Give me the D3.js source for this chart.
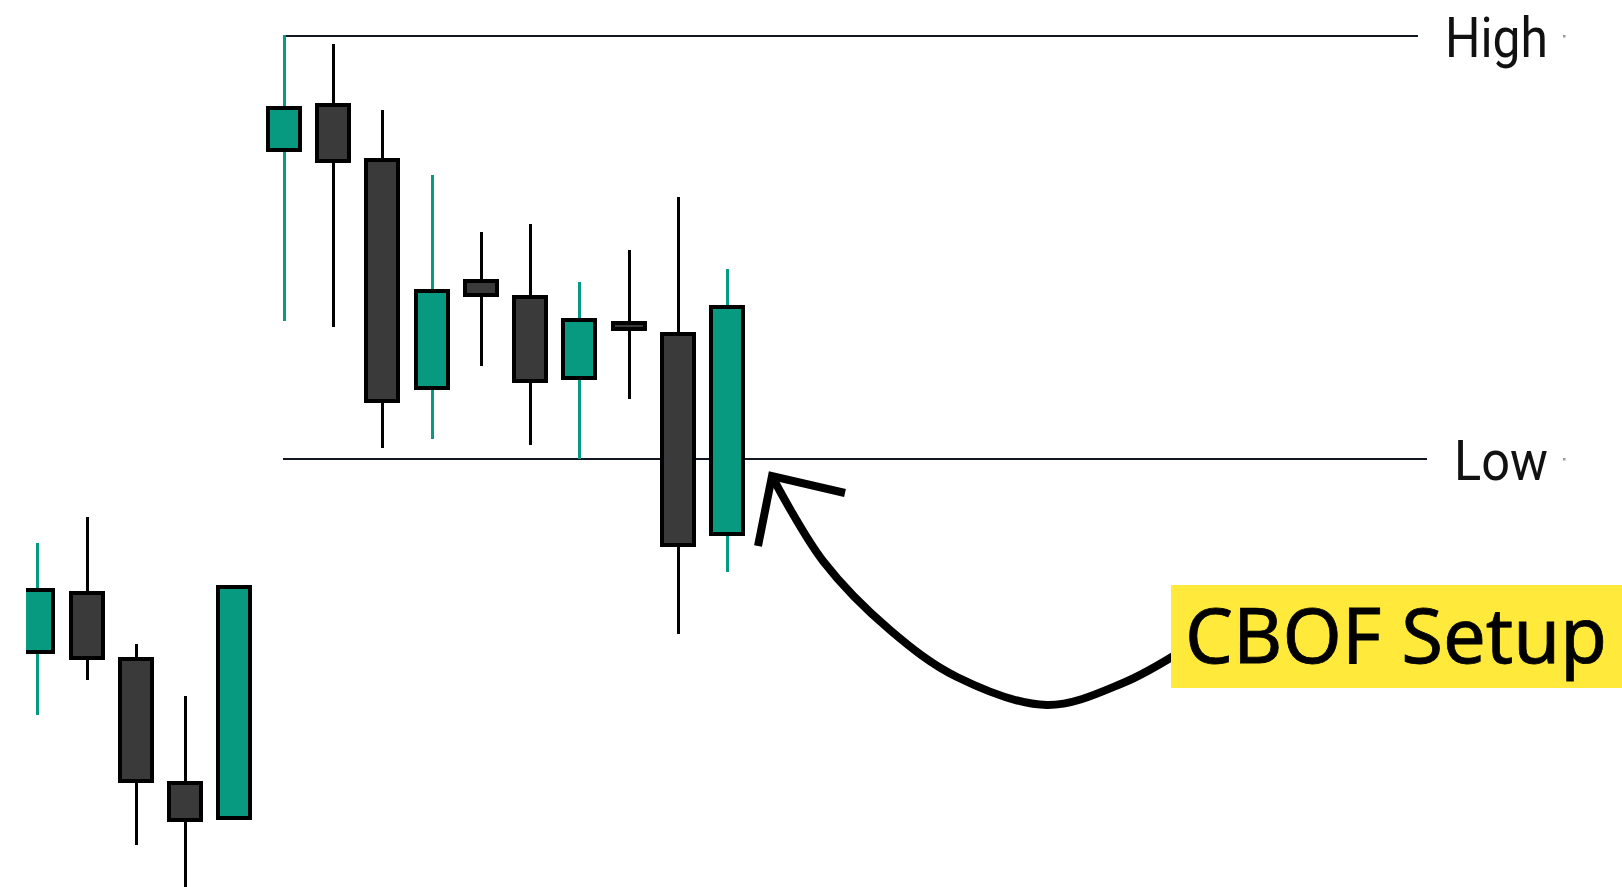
<!DOCTYPE html>
<html>
<head>
<meta charset="utf-8">
<script src="https://cdn.jsdelivr.net/npm/d3@7/dist/d3.min.js"></script>
<style>
  html, body { margin: 0; padding: 0; background: #fff; }
  svg { display: block; }
</style>
</head>
<body>
<svg id="chart" width="1622" height="887"></svg>
<script>
// ---- data (arbitrary price units) ----
const categories = [1, 2, 3, 4, 5, 6, 7, 8, 9, 10, 11, 12, 13, 14, 15];
const opens  = [26.5, 33.1, 25.7, 11.7,  7.8, 83.1, 88.2, 82.0, 56.3, 68.3, 66.5, 57.4, 63.6, 62.4, 39.8];
const highs  = [38.8, 41.7, 27.4, 21.5, 33.8, 96.0, 95.0, 87.6, 80.3, 73.8, 74.7, 68.2, 71.8, 77.8, 69.7];
const lows   = [19.4, 23.3,  4.7,  0.0,  7.8, 63.8, 63.1, 49.5, 50.5, 58.7, 49.8, 48.3, 55.0, 28.5, 35.5];
const closes = [33.5, 25.8, 11.9,  7.5, 33.8, 87.8, 81.9, 54.8, 67.2, 66.7, 57.0, 63.9, 62.9, 38.6, 65.4];

const levelNames  = ["High", "Low"];
const levelValues = [95.9, 48.3];
const levelStart  = 6;            // levels drawn from the 6th candle onward
const annotationText = "CBOF Setup";

// ---- layout / style ----
const W = 1622, H = 887;
const GREEN = "#089981", DARK = "#3a3a3a";
const svg = d3.select("#chart");

const x = d3.scaleLinear().domain([1, 15]).range([37.3, 727.3]);
const y = d3.scaleLinear().domain([0, 100]).range([H, 0]);

const data = categories.map((c, i) => ({
  c, o: opens[i], h: highs[i], l: lows[i], cl: closes[i], up: closes[i] >= opens[i]
}));

svg.append("defs").append("clipPath").attr("id", "clip")
  .append("rect").attr("x", 26).attr("y", 0).attr("width", W - 26).attr("height", H);

// ---- level lines ----
const levelLineEnd = [1418, 1427];
const levelLabelX  = [1445, 1454];
const lv = svg.append("g");
levelValues.forEach((v, i) => {
  const yy = Math.round(y(v));
  lv.append("line")
    .attr("x1", Math.round(x(levelStart)) - 1).attr("x2", levelLineEnd[i])
    .attr("y1", yy).attr("y2", yy)
    .attr("stroke", "#131722").attr("stroke-width", 2);
  lv.append("text")
    .attr("x", levelLabelX[i]).attr("y", yy + 21)
    .attr("font-family", "Roboto, 'Noto Sans', sans-serif")
    .attr("font-size", 55)
    .attr("fill", "#111")
    .attr("textLength", i === 0 ? 103 : 94)
    .attr("lengthAdjust", "spacingAndGlyphs")
    .text(levelNames[i]);
  lv.append("rect")
    .attr("x", 1563).attr("y", yy - 1).attr("width", 2.5).attr("height", 2.5)
    .attr("fill", "#999");
});

// ---- candles ----
const g = svg.append("g").attr("clip-path", "url(#clip)");
const bodyW = 32;
const cx = d => Math.round(x(d.c)) + 0.5;

g.selectAll("line.wick").data(data).join("line")
  .attr("class", "wick")
  .attr("x1", cx).attr("x2", cx)
  .attr("y1", d => Math.round(y(d.h))).attr("y2", d => Math.round(y(d.l)))
  .attr("stroke", d => d.up ? GREEN : "#000")
  .attr("stroke-width", 3);

g.selectAll("rect.body").data(data).join("rect")
  .attr("class", "body")
  .attr("x", d => Math.round(x(d.c)) - bodyW / 2)
  .attr("width", bodyW)
  .attr("y", d => Math.round(y(Math.max(d.o, d.cl))))
  .attr("height", d => Math.max(2, Math.round(Math.abs(y(d.o) - y(d.cl)))))
  .attr("fill", d => d.up ? GREEN : DARK)
  .attr("stroke", "#000")
  .attr("stroke-width", 4);

// ---- annotation arrow ----
const shaft = [[1180, 652], [1123, 683], [1047, 705], [957, 677], [890, 630], [823, 561], [775, 482]];
svg.append("path")
  .attr("d", d3.line().curve(d3.curveCatmullRom.alpha(0.5))(shaft))
  .attr("fill", "none").attr("stroke", "#000").attr("stroke-width", 8)
  .attr("stroke-linecap", "round");
const head = [[758, 546], [772, 476], [845, 493]];
svg.append("path")
  .attr("d", d3.line()(head))
  .attr("fill", "none").attr("stroke", "#000").attr("stroke-width", 8)
  .attr("stroke-linejoin", "miter").attr("stroke-linecap", "butt");

// ---- annotation label ----
svg.append("rect")
  .attr("x", 1171).attr("y", 585).attr("width", W - 1171).attr("height", 103)
  .attr("fill", "#ffe93b");
svg.append("text")
  .attr("x", 1185).attr("y", 663)
  .attr("font-family", "'Noto Sans', 'Open Sans', sans-serif")
  .attr("font-size", 77)
  .attr("fill", "#000").attr("stroke", "#000").attr("stroke-width", 0.8)
  .attr("textLength", 422).attr("lengthAdjust", "spacingAndGlyphs")
  .text(annotationText);
</script>
</body>
</html>
